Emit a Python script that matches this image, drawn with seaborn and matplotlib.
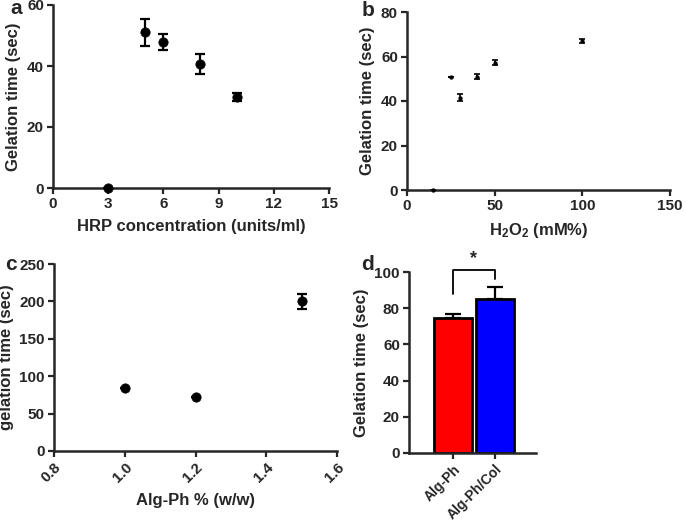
import numpy as np
import pandas as pd
import matplotlib
matplotlib.use('Agg')
import matplotlib.pyplot as plt
import seaborn as sns

# panel a: HRP concentration
hrp_conc = [3, 5, 6, 8, 10]
hrp_time = [0, 51.0, 48.0, 40.7, 29.7]
hrp_err = [0, 4.3, 2.6, 3.2, 1.3]

# panel b: H2O2
h2o2_conc = [15, 25, 30, 40, 50, 100]
h2o2_time = [0, 50.7, 41.5, 51.0, 57.3, 67.0]
h2o2_err = [0, 0, 1.5, 1.0, 1.0, 1.0]

# panel c: Alg-Ph content
algph_pct = [1.0, 1.2, 1.5]
algph_time = [84.5, 72.5, 200.0]
algph_err = [0, 0, 10.0]

# panel d: bars
groups = ['Alg-Ph', 'Alg-Ph/Col']
group_time = [74.5, 85.0]
group_err = [2.5, 6.5]
group_colors = ['#ff0000', '#0000ff']

sns.set_style('ticks')
plt.rcParams['font.family'] = ['Liberation Sans', 'DejaVu Sans']
plt.rcParams['font.weight'] = 'bold'
plt.rcParams['axes.labelweight'] = 'bold'
plt.rcParams['mathtext.fontset'] = 'custom'
plt.rcParams['mathtext.rm'] = 'Liberation Sans:bold'
plt.rcParams['mathtext.bf'] = 'Liberation Sans:bold'
plt.rcParams['mathtext.default'] = 'bf'

W, H = 685, 521
fig = plt.figure(figsize=(6.85, 5.21), dpi=100)

def px_axes(left, top, right, bottom):
    return fig.add_axes([left / W, (H - bottom) / H, (right - left) / W, (bottom - top) / H])

ax_a = px_axes(53, 5, 329, 188)
ax_b = px_axes(407, 12, 670, 190)
ax_c = px_axes(54, 264, 337, 451)
ax_d = px_axes(409, 272, 536, 453)

tick_fs = 11
label_fs = 12

def style(ax):
    sns.despine(ax=ax)
    for s in ['left', 'bottom']:
        ax.spines[s].set_linewidth(1.8)
    ax.tick_params(width=1.6, length=4.5, labelsize=tick_fs, pad=2)
    for lab in ax.get_xticklabels() + ax.get_yticklabels():
        lab.set_fontweight('bold')

# a
df_a = pd.DataFrame({'x': hrp_conc, 'y': hrp_time})
ax_a.errorbar(hrp_conc, hrp_time, yerr=hrp_err, fmt='none', ecolor='black',
              elinewidth=1.6, capsize=3.5, capthick=1.6, clip_on=False)
sns.scatterplot(data=df_a, x='x', y='y', ax=ax_a, color='black', s=45,
                edgecolor='black', clip_on=False, zorder=3)
ax_a.set_xlim(0, 15)
ax_a.set_ylim(0, 60)
ax_a.set_xticks([0, 3, 6, 9, 12, 15])
ax_a.set_yticks([0, 20, 40, 60])
ax_a.set_xlabel('HRP concentration (units/ml)', fontsize=label_fs, labelpad=6)
ax_a.set_ylabel('Gelation time (sec)', fontsize=label_fs, labelpad=4)
style(ax_a)

# b
df_b = pd.DataFrame({'x': h2o2_conc, 'y': h2o2_time})
ax_b.errorbar(h2o2_conc, h2o2_time, yerr=h2o2_err, fmt='none', ecolor='black',
              elinewidth=1.2, capsize=2, capthick=1.2, clip_on=False)
sns.scatterplot(data=df_b, x='x', y='y', ax=ax_b, color='black', s=8,
                edgecolor='black', clip_on=False, zorder=3)
ax_b.set_xlim(0, 150)
ax_b.set_ylim(0, 80)
ax_b.set_xticks([0, 50, 100, 150])
ax_b.set_yticks([0, 20, 40, 60, 80])
ax_b.set_xlabel(r'H$_2$O$_2$ (mM%)', fontsize=label_fs, labelpad=6)
ax_b.set_ylabel('Gelation time (sec)', fontsize=label_fs, labelpad=4)
style(ax_b)

# c
df_c = pd.DataFrame({'x': algph_pct, 'y': algph_time})
ax_c.errorbar(algph_pct, algph_time, yerr=algph_err, fmt='none', ecolor='black',
              elinewidth=1.6, capsize=3.5, capthick=1.6, clip_on=False)
sns.scatterplot(data=df_c, x='x', y='y', ax=ax_c, color='black', s=45,
                edgecolor='black', clip_on=False, zorder=3)
ax_c.set_xlim(0.8, 1.6)
ax_c.set_ylim(0, 250)
ax_c.set_xticks([0.8, 1.0, 1.2, 1.4, 1.6])
ax_c.set_xticklabels(['0.8', '1.0', '1.2', '1.4', '1.6'], rotation=45, ha='right',
                     rotation_mode='anchor')
ax_c.set_yticks([0, 50, 100, 150, 200, 250])
ax_c.set_xlabel('Alg-Ph % (w/w)', fontsize=label_fs, labelpad=6)
ax_c.set_ylabel('gelation time (sec)', fontsize=label_fs, labelpad=4)
style(ax_c)

# d
df_d = pd.DataFrame({'group': groups, 'time': group_time})
sns.barplot(data=df_d, x='group', y='time', hue='group', palette=group_colors,
            ax=ax_d, width=0.9, edgecolor='black', linewidth=2, legend=False,
            errorbar=None, saturation=1)
ax_d.errorbar([0, 1], group_time, yerr=[[0, 0], group_err], fmt='none', ecolor='black',
              elinewidth=1.6, capsize=6, capthick=1.6, zorder=0)
ax_d.set_xlim(-1.05, 1.98)
ax_d.set_ylim(0, 100)
ax_d.set_yticks([0, 20, 40, 60, 80, 100])
ax_d.set_xticks([0, 1])
ax_d.set_xticklabels(groups, rotation=45, ha='right', rotation_mode='anchor')
ax_d.set_xlabel('')
ax_d.set_ylabel('Gelation time (sec)', fontsize=label_fs, labelpad=4)
# significance bracket
ax_d.plot([0, 0, 1, 1], [88, 101, 101, 96], color='black', lw=1.3, clip_on=False)
ax_d.text(0.5, 102.5, '*', ha='center', va='bottom', fontsize=13, fontweight='bold')
style(ax_d)
ax_d.tick_params(axis='x', labelsize=10)

# panel letters
for lbl, x, y in [('a', 10, 9), ('b', 362, 10), ('c', 5, 265), ('d', 361, 265)]:
    fig.text(x / W, (H - y) / H, lbl, fontsize=15, fontweight='bold', va='center')

fig.savefig('out.png', dpi=100)
